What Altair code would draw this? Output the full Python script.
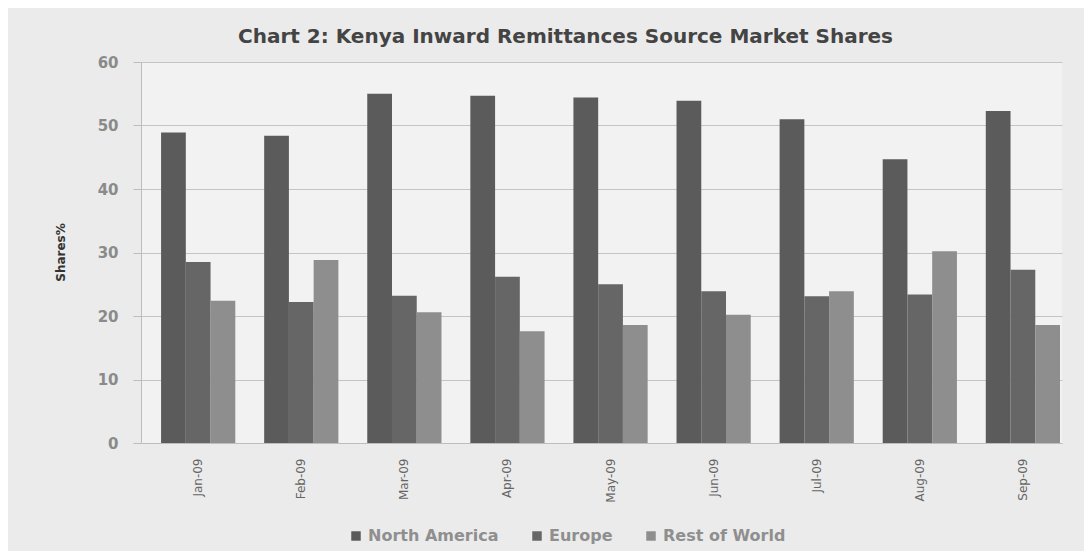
import altair as alt
import pandas as pd

months = ["Jan-09", "Feb-09", "Mar-09", "Apr-09", "May-09", "Jun-09", "Jul-09", "Aug-09", "Sep-09"]
regions = ["North America", "Europe", "Rest of World"]
north_america = [48.9, 48.4, 55.0, 54.7, 54.4, 53.9, 51.0, 44.7, 52.3]
europe = [28.5, 22.2, 23.2, 26.2, 25.0, 23.9, 23.1, 23.4, 27.3]
rest_of_world = [22.4, 28.8, 20.6, 17.6, 18.6, 20.2, 23.9, 30.2, 18.6]
colors = ["#5b5b5b", "#666666", "#8e8e8e"]

rows = []
for i, m in enumerate(months):
    for r, vals in zip(regions, [north_america, europe, rest_of_world]):
        rows.append({"Month": m, "Region": r, "Share": vals[i]})
df = pd.DataFrame(rows)

chart = alt.Chart(df).mark_bar().encode(
    x=alt.X("Month:N", sort=months,
            scale=alt.Scale(paddingInner=0.28, paddingOuter=0.107, align=0.91),
            axis=alt.Axis(title=None, labelAngle=-90, labelFont="DejaVu Sans", labelFontSize=12,
                          labelColor="#666666", ticks=False, labelPadding=15,
                          domainColor="#bdbdbd", grid=False)),
    xOffset=alt.XOffset("Region:N", sort=regions),
    y=alt.Y("Share:Q", scale=alt.Scale(domain=[0, 60]),
            axis=alt.Axis(title="Shares%", values=[0, 10, 20, 30, 40, 50, 60],
                          labelFont="DejaVu Sans", labelFontSize=15, labelFontWeight="bold",
                          labelColor="#8a8a8a", labelPadding=15, tickSize=8,
                          tickColor="#bdbdbd", domainColor="#bdbdbd", gridColor="#c4c4c4",
                          titleFont="DejaVu Sans", titleFontSize=12, titleFontWeight="bold",
                          titleColor="#333333", titleX=-81, titleY=190, titleAngle=-90,
                          titleBaseline="middle", titleAlign="center")),
    color=alt.Color("Region:N", sort=regions,
                    scale=alt.Scale(domain=regions, range=colors),
                    legend=alt.Legend(title=None, orient="none", legendX=207, legendY=466,
                                      direction="horizontal", symbolType="square",
                                      symbolSize=90, symbolStrokeWidth=0,
                                      labelFont="DejaVu Sans", labelFontSize=16,
                                      labelFontWeight="bold", labelColor="#8f8f8f",
                                      columnPadding=30, symbolOffset=0)),
).properties(
    width=921, height=381,
    title=alt.TitleParams("Chart 2: Kenya Inward Remittances Source Market Shares",
                          font="DejaVu Sans", fontSize=20, fontWeight="bold",
                          color="#444444", anchor="middle", dx=-36, offset=8),
    background="#ebebeb",
    padding={"left": 133, "top": 54, "right": 22, "bottom": 108},
    autosize=alt.AutoSizeParams(type="none"),
).configure_view(fill="#f2f2f2", stroke=None)

chart.save("out.html", embed_options={"renderer": "svg", "actions": False})
